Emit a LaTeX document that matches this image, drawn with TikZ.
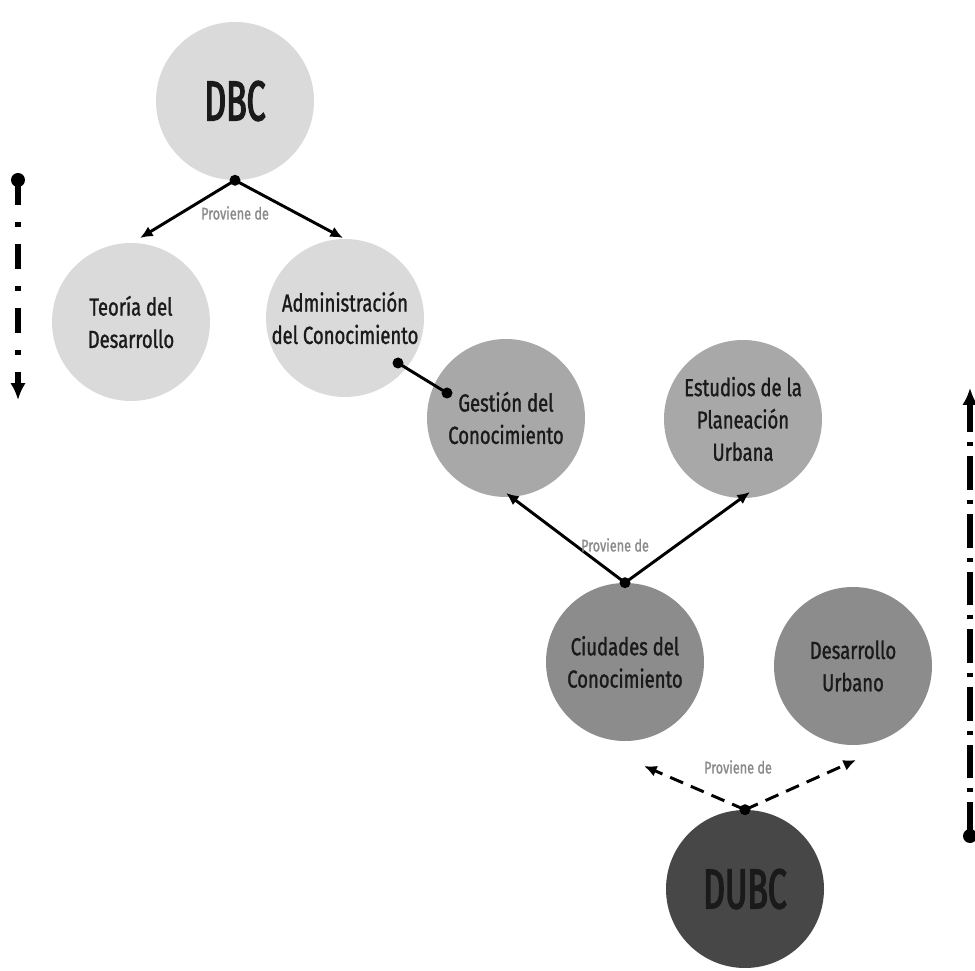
\documentclass[tikz,border=0pt]{standalone}
\usepackage{fontspec}
\setmainfont{Fira Sans}[FakeStretch=0.75, FakeBold=1.2]
\newfontfamily\titlefont{Fira Sans}[FakeStretch=0.6, FakeBold=2.5]
\usetikzlibrary{arrows.meta}

\definecolor{palegray}{HTML}{DADADA}
\definecolor{midgray}{HTML}{A8A8A8}
\definecolor{deepgray}{HTML}{8C8C8C}
\definecolor{darkgray}{HTML}{474747}
\definecolor{inkgray}{HTML}{1A1A1A}
\definecolor{notegray}{HTML}{8A8A8A}

\tikzset{
	bubble/.style={circle, minimum size=158*0.025cm, inner sep=0pt, align=center,
		text=inkgray, font=\fontsize{17.5}{23}\selectfont},
	bigbubble/.style={bubble, font=\titlefont\fontsize{40}{44}\selectfont},
	proviene/.style={text=notegray, font=\fontsize{12}{13}\selectfont},
	link/.style={line width=2.1pt, -{Latex[length=9pt,width=8pt]}},
	dashlink/.style={link, dash pattern=on 10pt off 6pt},
	pin/.style={line width=2.1pt},
	joint/.style={fill=black},
	timeline/.style={line width=3.6pt, -{Latex[length=12pt,width=11pt]}}
}

\begin{document}
\begin{tikzpicture}[x=0.025cm, y=-0.025cm]
	\useasboundingbox (0,0) rectangle (975,971);

	% circles
	\node[bubble, bigbubble, fill=palegray] (dbc) at (235,101) {DBC};
	\node[bubble, fill=palegray] (teoria) at (131,322) {Teoría del\\Desarrollo};
	\node[bubble, fill=palegray] (admin) at (345,318) {Administración\\del Conocimiento};
	\node[bubble, fill=midgray] (gestion) at (506,418) {Gestión del\\Conocimiento};
	\node[bubble, fill=midgray] (estudios) at (743,419) {Estudios de la\\Planeación\\Urbana};
	\node[bubble, fill=deepgray] (ciudades) at (625,662) {Ciudades del\\Conocimiento};
	\node[bubble, fill=deepgray] (desarrollo) at (853,666) {Desarrollo\\Urbano};
	\node[bubble, bigbubble, fill=darkgray] (dubc) at (745,889) {DUBC};

	% arrow ends
	\coordinate (teoriatip) at (140,238);
	\coordinate (admintip) at (343,238);
	\coordinate (gestiontip) at (506,493);
	\coordinate (estudiostip) at (750,492);
	\coordinate (ciudadestip) at (644,766);
	\coordinate (desarrollotip) at (856,760);
	\coordinate (adminpin) at (398,363);
	\coordinate (gestionpin) at (447,393);

	\draw[link] (dbc.south) -- (teoriatip);
	\draw[link] (dbc.south) -- (admintip);
	\draw[link] (ciudades.north) -- (gestiontip);
	\draw[link] (ciudades.north) -- (estudiostip);
	\draw[dashlink] (dubc.north) -- (ciudadestip);
	\draw[dashlink] (dubc.north) -- (desarrollotip);
	\draw[pin] (adminpin) -- (gestionpin);
	\fill[joint] (dbc.south) circle (5.5);
	\fill[joint] (ciudades.north) circle (5.5);
	\fill[joint] (dubc.north) circle (5.5);
	\fill[joint] (adminpin) circle (5.5);
	\fill[joint] (gestionpin) circle (5.5);

	\node[proviene] (prov1) at (235,213) {Proviene de};
	\node[proviene] (prov2) at (615,545) {Proviene de};
	\node[proviene] (prov3) at (738,767) {Proviene de};

	% side lines
	\coordinate (lefttop) at (18,180);
	\coordinate (leftbot) at (18,400);
	\coordinate (rightbot) at (970,836);
	\coordinate (righttop) at (970,388);
	\draw[timeline, dash pattern=on 18pt off 12pt on 3.5pt off 12pt] (lefttop) -- (leftbot);
	\draw[timeline, dash pattern=on 24pt off 7pt on 3pt off 7pt] (rightbot) -- (righttop);
	\fill[joint] (lefttop) circle (7);
	\fill[joint] (rightbot) circle (7);
\end{tikzpicture}
\end{document}
